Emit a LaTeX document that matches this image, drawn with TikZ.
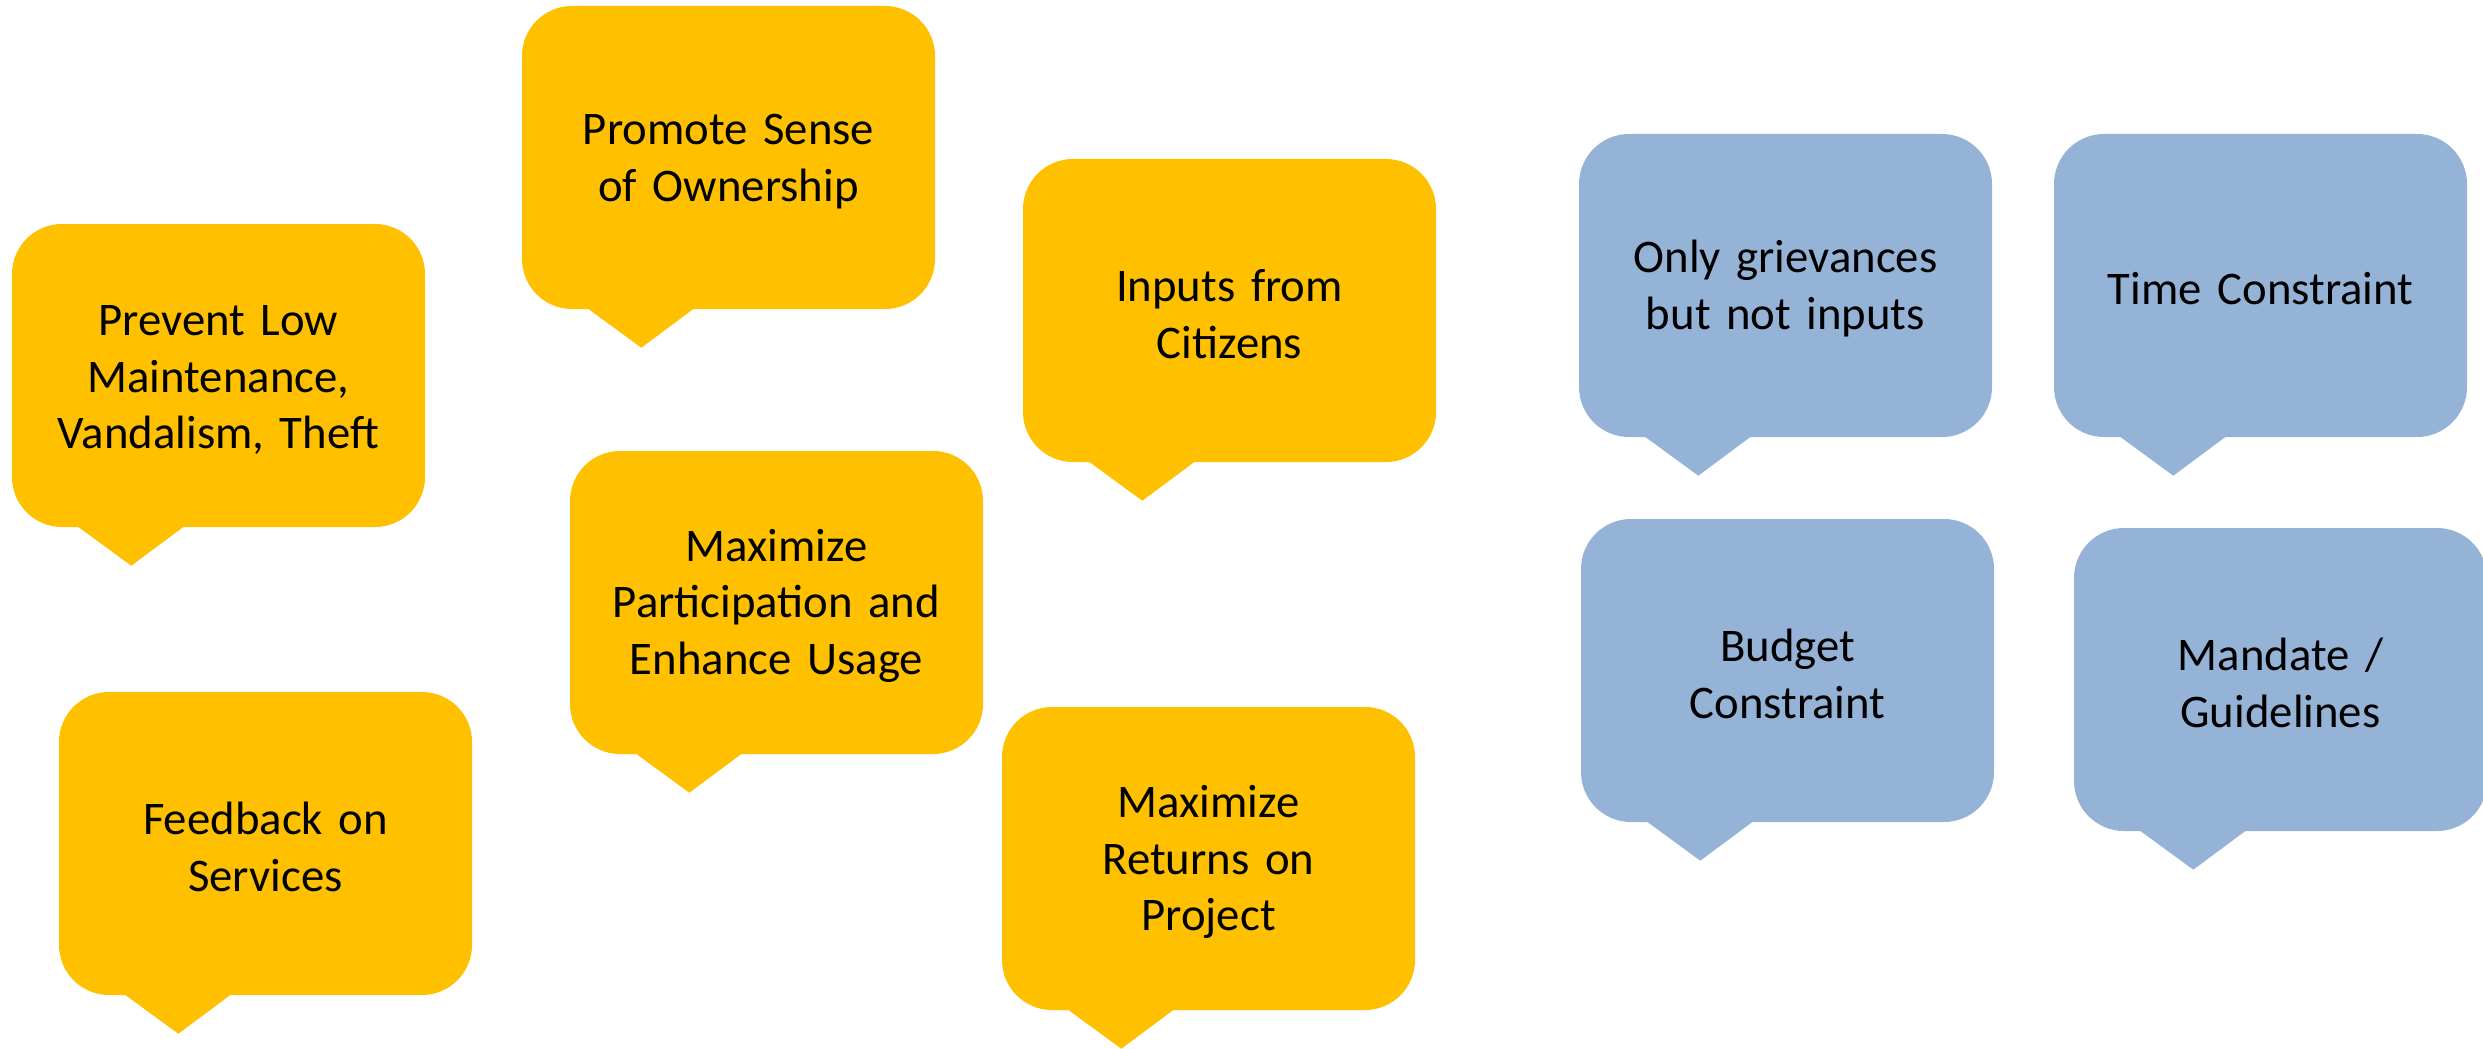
\documentclass[tikz,border=0pt]{standalone}
\usepackage{fontspec}
\setmainfont{Carlito}
\usepackage{tikz}
\usetikzlibrary{positioning}
\definecolor{goalyellow}{HTML}{FFC000}
\definecolor{limitblue}{HTML}{95B3D7}
\tikzset{
    bubble/.style = {rounded corners = 0.5cm, minimum width = 4.13cm, minimum height = 3.03cm,
        inner sep = 0pt, align = center, text width = 4cm,
        font = \fontsize{13.3pt}{16.2pt}\selectfont,
        execute at begin node = {\rule{0pt}{0.39cm}}},
    goal/.style = {bubble, fill = goalyellow},
    limit/.style = {bubble, fill = limitblue},
}

\begin{document}
\begin{tikzpicture}
            \useasboundingbox (0, 0) rectangle (24.83, -10.48);

            \node[goal] (low) at (2.185, -3.755) {Prevent Low\\ Maintenance,\\ Vandalism, Theft};
            \node[goal] (own) at (7.285, -1.575) {Promote Sense\\ of Ownership};
            \node[goal] (inputs) at (12.295, -3.105) {Inputs from\\ Citizens};

            \node[goal] (usage) at (7.765, -6.025) {Maximize\\ Participation and\\ Enhance Usage};
            \node[goal] (feedback) at (2.655, -8.435) {Feedback on\\ Services};
            \node[goal] (returns) at (12.085, -8.585) {Maximize\\ Returns on\\ Project};

            \node[limit] (grievances) at (17.855, -2.855) {Only grievances\\ but not inputs};
            \node[limit] (time) at (22.605, -2.855) {Time Constraint};
            \node[limit] (budget) at (17.875, -6.705) {Budget\\ Constraint};
            \node[limit] (mandate) at (22.805, -6.795) {Mandate /\\ Guidelines};

            \foreach \b/\c in {low/goalyellow, own/goalyellow, inputs/goalyellow,
                    usage/goalyellow, feedback/goalyellow, returns/goalyellow,
                    grievances/limitblue, time/limitblue, budget/limitblue, mandate/limitblue}
                \fill[\c] (\b.south west) ++(0.612, 0.05) -- ++(0.588, -0.43) -- ++(0.578, 0.43) -- cycle;
        \end{tikzpicture}
\end{document}
